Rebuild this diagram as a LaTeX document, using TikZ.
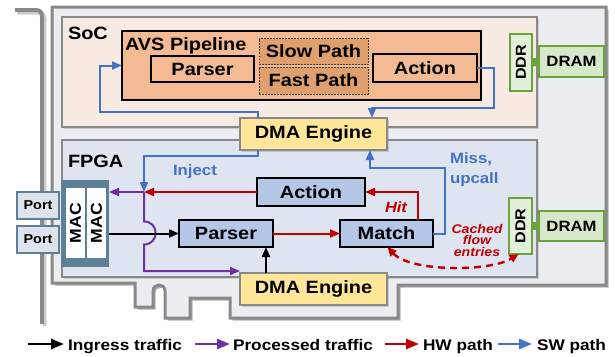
\documentclass[tikz,border=0pt]{standalone}
\usepackage{fontspec}
\setmainfont{Liberation Sans}[FakeStretch=1.12]
\usetikzlibrary{arrows.meta,calc,shadows}
\definecolor{cardfill}{HTML}{ECEDF0}
\definecolor{cardline}{HTML}{898989}
\definecolor{socfill}{HTML}{F6EAE3}
\definecolor{fpgafill}{HTML}{DFE4F1}
\definecolor{avsfill}{HTML}{F4BA93}
\definecolor{pathfill}{HTML}{E0A06E}
\definecolor{dmafill}{HTML}{FFE699}
\definecolor{hwfill}{HTML}{B4C7E7}
\definecolor{ddrfill}{HTML}{E2EFDA}
\definecolor{dramfill}{HTML}{D6E8C9}
\definecolor{ddrline}{HTML}{6AA23C}
\definecolor{macfill}{HTML}{5E7F98}
\definecolor{portfill}{HTML}{DCE3EA}
\definecolor{hwred}{HTML}{C00000}
\definecolor{swblue}{HTML}{4472C4}
\definecolor{procpurple}{HTML}{7030A0}
\newcommand{\fbig}{\fontsize{17.8}{20}\selectfont\bfseries}
\newcommand{\fmid}{\fontsize{15}{20}\selectfont\bfseries}
\newcommand{\fleg}{\fontsize{15.4}{18}\selectfont\bfseries}
\begin{document}
\begin{tikzpicture}[x=1pt,y=-1pt,line join=miter,
  box/.style={draw, rectangle, inner sep=0pt, outer sep=0pt, align=center},
  shad/.style={drop shadow={opacity=0.3, shadow xshift=2pt, shadow yshift=-2pt}},
  region/.style={box, draw=cardline, line width=2.7pt, shad},
  dmabox/.style={box, draw=cardline, fill=dmafill, line width=2.5pt, font=\fbig, shad},
  avsin/.style={box, draw=black, fill=avsfill, line width=1.1pt, font=\fbig},
  pathbox/.style={box, draw=black!75, fill=pathfill, line width=0.9pt, dash pattern=on 1.6pt off 1.4pt, font=\fbig},
  hwbox/.style={box, draw=black, fill=hwfill, line width=1.5pt, font=\fbig},
  ddrbox/.style={box, draw=ddrline, fill=ddrfill, line width=2.2pt, font=\fontsize{14.4}{16}\selectfont\bfseries},
  drambox/.style={box, draw=ddrline, fill=dramfill, line width=2.2pt, font=\fontsize{14.9}{16}\selectfont\bfseries},
  macouter/.style={box, draw=none, fill=macfill},
  macinner/.style={box, draw=none, fill=white, font=\fontsize{15.7}{16}\selectfont\bfseries},
  portbox/.style={box, draw=macfill, fill=portfill, line width=2pt, font=\fontsize{12.9}{14}\selectfont\bfseries},
  conn/.style={line width=2pt, -{Triangle[length=10pt,width=8pt]}},
  hwpath/.style={conn, draw=hwred},
  swpath/.style={conn, draw=swblue},
  procpath/.style={conn, draw=procpurple},
  ingpath/.style={conn, draw=black},
  legarrow/.style={line width=2.6pt, -{Triangle[length=13pt,width=10pt]}},
  lbl/.style={inner sep=0pt, outer sep=0pt}
]
\useasboundingbox (0,0) rectangle (615,356);

% PCIe bracket
\draw[black!30, line width=4pt, opacity=0.6] (17,12.5) -- (37,12.5) .. controls (42,12.5) and (44.5,14.5) .. (44.5,19) -- (44.5,326);
\draw[cardline, line width=4pt] (15,10) -- (35,10) .. controls (40,10) and (42,12) .. (42,17) -- (42,324);

% card outline
\fill[black, opacity=0.3] (54.5,9.5) -- (608.5,9.5) -- (608.5,287.5) -- (400.5,287.5) -- (400.5,320.5) -- (232.5,320.5) -- (232.5,300.5) -- (192.5,300.5) -- (192.5,320.5) -- (167.5,320.5) -- (167.5,293.5) .. controls (167.5,285.5) and (155.5,285.5) .. (155.5,293.5) -- (155.5,309.5) -- (137.5,309.5) -- (137.5,285.5) -- (54.5,285.5) -- cycle;
\draw[cardline, fill=cardfill, line width=3pt] (52,7) -- (606,7) -- (606,285) -- (398,285) -- (398,318) -- (230,318) -- (230,298) -- (190,298) -- (190,318) -- (165,318) -- (165,291) .. controls (165,283) and (153,283) .. (153,291) -- (153,307) -- (135,307) -- (135,283) -- (52,283) -- cycle;

% regions
\node[region, fill=socfill, minimum width=475pt, minimum height=110pt] (soc) at (299.5,72) {};
\node[region, fill=fpgafill, minimum width=475pt, minimum height=137pt] (fpga) at (299.5,208.5) {};
\node[lbl, anchor=base west, font=\fbig] (soclbl) at (68,39.5) {SoC};
\node[lbl, anchor=base west, font=\fbig] (fpgalbl) at (68,167.5) {FPGA};

% SoC contents
\node[box, draw=black, fill=avsfill, line width=1.1pt, minimum width=359pt, minimum height=69pt] (avs) at (301.5,65.5) {};
\node[lbl, anchor=base west, font=\fbig] (avslbl) at (125,50) {AVS Pipeline};
\node[avsin, minimum width=103pt, minimum height=26pt] (sparser) at (202.5,69) {Parser};
\node[pathbox, minimum width=109pt, minimum height=26pt] (slow) at (313.5,51.5) {Slow Path};
\node[pathbox, minimum width=109pt, minimum height=27pt] (fast) at (313.5,80.5) {Fast Path};
\node[avsin, minimum width=104pt, minimum height=28pt] (saction) at (425,68) {Action};
\node[ddrbox, minimum width=22pt, minimum height=57pt] (sddr) at (521,62.5) {\rotatebox{90}{DDR}};
\node[drambox, minimum width=65pt, minimum height=31pt] (sdram) at (571.5,61.5) {DRAM};
\draw[ddrline, line width=8pt] (sddr.east) -- (sdram.west);

% FPGA contents
\node[hwbox, minimum width=108pt, minimum height=28pt] (faction) at (311,192) {Action};
\node[hwbox, minimum width=94pt, minimum height=27pt] (fparser) at (226,233.5) {Parser};
\node[hwbox, minimum width=93pt, minimum height=27pt] (match) at (386.5,233.5) {Match};
\node[ddrbox, minimum width=23pt, minimum height=56pt] (fddr) at (520.5,226) {\rotatebox{90}{DDR}};
\node[drambox, minimum width=65pt, minimum height=30pt] (fdram) at (571.5,226) {DRAM};
\draw[ddrline, line width=8pt] (fddr.east) -- (fdram.west);

% MAC and ports
\node[macouter, minimum width=48pt, minimum height=87pt] (mac) at (85,223.5) {};
\node[macinner, minimum width=19pt, minimum height=70pt] (mac1) at (75.5,223) {\rotatebox{90}{MAC}};
\node[macinner, minimum width=19pt, minimum height=70pt] (mac2) at (96.5,223) {\rotatebox{90}{MAC}};
\node[portbox, minimum width=42pt, minimum height=27pt] (port1) at (38,205.5) {Port};
\node[portbox, minimum width=42pt, minimum height=27pt] (port2) at (38,239.5) {Port};

% DMA engines
\node[dmabox, minimum width=147pt, minimum height=32pt] (dma1) at (313.5,134) {DMA Engine};
\node[dmabox, minimum width=147pt, minimum height=32pt] (dma2) at (313.5,289) {DMA Engine};

% junction
\coordinate (J) at (144,192);
\coordinate (dmaup) at ([xshift=26pt]dma2.north west);

% SW path
\draw[swpath] ([xshift=18pt]dma1.north west) |- (100,112) |- (avs.west);
\draw[swpath] (saction.east) -| (494,108) -| ([xshift=-15pt]dma1.north east);
\draw[swpath] ([xshift=18pt]dma1.south west) |- (144,156) -- (J);
\draw[swpath] (match.east) -| (445,168) -| ([xshift=-17pt]dma1.south east);

% HW path
\draw[hwpath] (fparser.east) -- (match.west);
\draw[hwpath] ([xshift=-15pt]match.north east) |- (faction.east);
\draw[hwpath] (faction.west) -- (J);

% processed traffic
\draw[procpath] (J) -- (mac.east |- J);
\draw[procpath] (J) -- (144,221.5) .. controls (159.5,221.5) and (159.5,244.5) .. (144,244.5) -- (144,271) -- (dma2.north west |- 0,271);

% ingress traffic
\draw[ingpath] (mac.east |- fparser.west) -- (fparser.west);
\draw[ingpath] (dmaup) -- (dmaup |- fparser.south);

% cached flow entries
\draw[hwred, line width=2.4pt, dash pattern=on 7pt off 5pt, {Triangle[length=9pt,width=8pt]}-{Triangle[length=9pt,width=8pt]}] ([xshift=1pt]match.south) .. controls (410,272) and (490,272) .. ([xshift=-2pt]fddr.south);

% labels
\node[lbl, anchor=base west, font=\fmid, text=swblue] (injlbl) at (173,175) {Inject};
\node[lbl, anchor=base west, font=\fmid, text=swblue] (misslbl) at (450,163) {Miss,};
\node[lbl, anchor=base west, font=\fmid, text=swblue] (upclbl) at (450,183) {upcall};
\node[lbl, anchor=base west, font=\fontsize{14.7}{16}\selectfont\bfseries\itshape, text=hwred] (hitlbl) at (385,212.5) {Hit};
\node[lbl, align=center, font=\fontsize{12.6}{11.5}\selectfont\bfseries\itshape, text=hwred] (cachelbl) at (477,240) {Cached\\flow\\entries};

% legend
\coordinate (l1a) at (28,344); \coordinate (l1b) at (64,344);
\coordinate (l2a) at (195,344); \coordinate (l2b) at (230,344);
\coordinate (l3a) at (385,344); \coordinate (l3b) at (419,344);
\coordinate (l4a) at (498,344); \coordinate (l4b) at (532,344);
\draw[legarrow, draw=black] (l1a) -- (l1b);
\draw[legarrow, draw=procpurple] (l2a) -- (l2b);
\draw[legarrow, draw=hwred] (l3a) -- (l3b);
\draw[legarrow, draw=swblue] (l4a) -- (l4b);
\node[lbl, anchor=base west, font=\fleg] (leg1) at (68,350) {Ingress traffic};
\node[lbl, anchor=base west, font=\fleg] (leg2) at (233,350) {Processed traffic};
\node[lbl, anchor=base west, font=\fleg] (leg3) at (423,350) {HW path};
\node[lbl, anchor=base west, font=\fleg] (leg4) at (537,350) {SW path};
\end{tikzpicture}
\end{document}
